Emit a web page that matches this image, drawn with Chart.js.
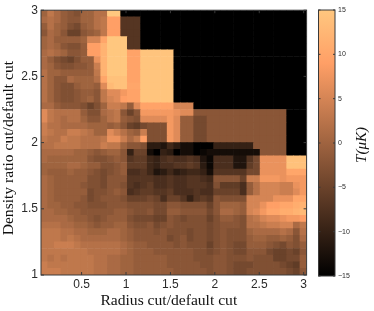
<!DOCTYPE html>
<html><head><meta charset="utf-8">
<script src="https://cdn.jsdelivr.net/npm/chart.js@4"></script>
<style>
html,body{margin:0;padding:0;background:#fff;width:374px;height:311px;overflow:hidden}
canvas{position:absolute;top:0}
#main{left:0}
#bar{left:310px}
</style></head><body>
<canvas id="main" width="374" height="311"></canvas>
<canvas id="bar" width="64" height="311"></canvas>
<script>
const xTickValues=[0.5,1,1.5,2,2.5,3];
const yTickValues=[1,1.5,2,2.5,3];
const colorTickValues=[-15,-10,-5,0,5,10,15];
const xTitle='Radius cut/default cut';
const yTitle='Density ratio cut/default cut';
const colorTitle='T(\u03BCK)';
const K=-15,L=15;
const row00=[0,3,1,-1,-2,-3,0,0,2,2,15,15,K,K,K,K,K,K,K,K,K,K,K,K,K,K,K,K,K,K,K,K,K,K,K,K,K,K,K,K];
const row01=[1,2,1,-1,-2,-2,0,0,2,3,9,9,-7,-7,-7,K,K,K,K,K,K,K,K,K,K,K,K,K,K,K,K,K,K,K,K,K,K,K,K,K];
const row02=[-1,2,0,-1,-3,-4,-1,0,2,3,9,9,-7,-7,-7,K,K,K,K,K,K,K,K,K,K,K,K,K,K,K,K,K,K,K,K,K,K,K,K,K];
const row03=[-2,1,0,-2,-5,-5,-2,-1,0,3,9,9,-7,-7,-7,K,K,K,K,K,K,K,K,K,K,K,K,K,K,K,K,K,K,K,K,K,K,K,K,K];
const row04=[0,1,-1,-1,-1,-1,0,5,5,10,15,15,15,-7,-7,K,K,K,K,K,K,K,K,K,K,K,K,K,K,K,K,K,K,K,K,K,K,K,K,K];
const row05=[0,1,0,-2,-3,-3,-1,9,9,12,15,15,15,-7,-7,K,K,K,K,K,K,K,K,K,K,K,K,K,K,K,K,K,K,K,K,K,K,K,K,K];
const row06=[1,2,1,0,-2,-2,-1,9,9,12,15,15,15,9.5,9.5,14.5,14.5,14.5,14.5,14.5,K,K,K,K,K,K,K,K,K,K,K,K,K,K,K,K,K,K,K,K];
const row07=[1,-1,-3,-4,-5,-3,-1,-1,7,12,15,15,15,9.5,9.5,14.5,14.5,14.5,14.5,14.5,K,K,K,K,K,K,K,K,K,K,K,K,K,K,K,K,K,K,K,K];
const row08=[1,0,-2,-3,-3,-2,-2,-1,4,12,15,15,15,9.5,9.5,14.5,14.5,14.5,14.5,14.5,K,K,K,K,K,K,K,K,K,K,K,K,K,K,K,K,K,K,K,K];
const row09=[2,0,0,-1,-1,-1,-1,-1,3,12,15,15,15,9.5,9.5,14.5,14.5,14.5,14.5,14.5,K,K,K,K,K,K,K,K,K,K,K,K,K,K,K,K,K,K,K,K];
const row10=[2,0,-2,-2,1,0,0,0,2,10,14,14,14,9.5,9.5,14.5,14.5,14.5,14.5,14.5,K,K,K,K,K,K,K,K,K,K,K,K,K,K,K,K,K,K,K,K];
const row11=[2,0,-2,-3,-3,-1,0,0,-1,6,13,14,14,10,10,14.5,14.5,14.5,14.5,14.5,K,K,K,K,K,K,K,K,K,K,K,K,K,K,K,K,K,K,K,K];
const row12=[2,0,-2,-3,-3,-2,-1,-1,-2,3,6,6,8,9.5,9.5,14.5,14.5,14.5,14.5,14.5,K,K,K,K,K,K,K,K,K,K,K,K,K,K,K,K,K,K,K,K];
const row13=[2,0,-2,-3,-3,-2,-1,0,-2,3,5,6,9,9.5,9.5,14.5,14.5,14.5,14.5,14.5,K,K,K,K,K,K,K,K,K,K,K,K,K,K,K,K,K,K,K,K];
const row14=[1,1,-1,-2,-2,-2,-3,-5,-3,0,4,4,3,-1,6,9.5,9.5,9.5,9.5,9.5,5,5,5,K,K,K,K,K,K,K,K,K,K,K,K,K,K,K,K,K];
const row15=[6,3,2,2,2,2,-1,-3,-3,1,2,3,-2,-5,-2,8,8,8,8,8,7,6,6,-2,-2,-2,-2,-2,-2,-2,-2,-2,-2,-2,-2,-2,-2,K,K,K];
const row16=[6,3,2,1,2,2,0,-2,-2,0,2,3,-1,-2,-3,6,6,6,6,8,6,-1,-1,-4,-4,-2,-2,-2,-2,-2,-2,-2,-2,-2,-2,-2,-2,K,K,K];
const row17=[4,2,2,1,1,1,1,0,0,0,-1,0,-2,-5,-6,-4,-3,-3,-3,8,6,-1,-1,-4,-4,-2,-2,-2,-2,-2,-2,-2,-2,-2,-2,-2,-2,K,K,K];
const row18=[4,3,2,2,4,4,3,2,0,0,6,4,2,0,-1,4,-3,-3,-3,8,6,-1,-1,-4,-4,-2,-2,-2,-2,-2,-2,-2,-2,-2,-2,-2,-2,K,K,K];
const row19=[3,2,2,4,3,3,2,2,2,3,7,7,4,1,3,9,-3,-3,-3,8,6,-1,-1,-4,-4,-2,-2,-2,-2,-2,-2,-2,-2,-2,-2,-2,-2,K,K,K];
const row20=[2,2,3,3,3,3,2,2,2,4,3,3,0,-2,-2,-3,-11,-11,-12,-9,-11,-13,-13,K,K,K,-10,-10,-10,-10,-10,-10,-2,-2,-2,-2,-2,K,K,K];
const row21=[1,1,1,1,1,0,0,-1,-2,-1,0,0,-2,-10,-5,-5,-13,K,-10,-11,K,-13,-13,K,-14,-13,-13,-13,-13,-13,-13,-13,-13,-2,-2,-2,-2,K,K,K];
const row22=[1,0,0,0,0,0,0,-2,-3,-3,-2,-1,-2,-7,-6,-6,-9,-10,-8,-7,-8,-8,-7,-8,-12,-14,-8,-8,-8,-12,-12,-7,-4,7,7,7,7,14,14,14];
const row23=[0,0,0,0,1,1,0,-1,-1,-3,-3,-2,-1,-6,-6,-6,-9,-10,-8,-8,-7,-7,-6,-7,-11,-14,-8,-8,-8,-12,-12,-6,-4,7,7,7,7,14,14,14];
const row24=[0,-1,-1,-1,0,-1,-1,-2,-3,-4,-3,-2,-1,-8,-8,-7,-9,-12,-11,-9,-11,-10,-9,-9,-10,-13,-7,-7,-7,-7,-7,-4,-4,7,7,7,7,10,10,10];
const row25=[1,0,-1,-1,-1,-1,-1,-3,-3,-4,-2,-2,-2,-7,-7,-7,-7,-8,-8,-7,-8,-8,-7,-7,-8,-9,-2,-2,-2,-2,-5,4,4,8,8,8,7,8,8,8];
const row26=[1,0,-1,-1,-1,-1,-2,-3,-3,-4,-2,-2,-3,-7,-8,-7,-6,-8,-8,-7,-8,-8,-7,-7,-7,-8,-3,-6,-6,-6,-8,-1,2,5,5,5,4,4,7,8];
const row27=[1,0,-1,-1,-1,-1,-1,-4,-3,-3,-2,-1,-2,-8,-7,-6,-6,-7,-7,-6,-8,-8,-8,-7,-8,-8,-5,-5,-5,-5,-8,-1,2,5,5,5,4,4,6,8];
const row28=[1,0,-1,-1,-1,-1,-2,-4,-3,-2,-2,-2,-3,-5,-5,-5,-4,-5,-8,-5,-5,-7,-10,-7,-6,-7,-2,-3,-3,-3,-3,5,5,5,5,7,7,7,10,10];
const row29=[1,0,0,-1,-1,-2,-2,-3,-3,-3,-2,-2,-2,-3,-3,-3,-3,-4,-4,-2,-2,-3,-3,-3,-3,-5,-2,0,0,0,-1,5,5,7,9,9,10,10,11,12];
const row30=[1,1,0,0,-1,-1,-2,-2,-2,-2,-2,-1,-1,-2,-3,-3,-2,-4,-4,-1,-1,-2,-2,-2,-2,-4,-2,1,1,0,-1,5,6,8,10,10,11,11,12,13];
const row31=[1,1,1,1,0,-1,-1,-2,-3,-2,-1,-1,-1,-3,-4,-4,-4,-5,-5,-2,-3,-4,-3,-3,-3,-5,-3,-1,-1,-2,-3,2,3,5,6,6,7,8,8,9];
const row32=[2,2,2,1,1,0,0,-1,-2,-1,-1,0,0,-2,-3,-3,-2,-4,-3,-2,-3,-3,-3,-3,-3,-4,-3,-2,-2,-2,-3,2,2,3,4,4,5,5,1,3];
const row33=[3,3,3,2,2,1,1,0,0,0,1,1,0,-1,-2,-2,-2,-3,-2,-3,-3,-3,-4,-3,-3,-4,-3,-2,-3,-3,-3,0,1,1,1,1,2,1,-2,2];
const row34=[3,3,3,2,3,2,1,1,1,1,1,1,0,-1,-2,-2,-2,-2,-2,-4,-3,-2,-4,-3,-3,-4,-3,-2,-3,-3,-3,-1,0,0,-1,-1,0,-1,-3,1];
const row35=[3,3,4,4,4,3,2,2,2,2,2,2,1,0,-1,-1,-2,-2,-2,-2,-3,-2,-3,-3,-3,-5,-3,-2,-3,-4,-4,-1,-1,-1,-2,-3,-4,-2,-3,-1];
const row36=[3,3,3,3,3,3,3,2,2,2,2,2,1,0,-1,-1,-1,-2,-2,-2,-2,-2,-2,-3,-3,-4,-3,-2,-3,-4,-4,-2,-2,-2,-4,-5,-5,-4,-5,-2];
const row37=[3,2,3,2,3,3,3,3,2,2,1,1,0,0,-1,-1,-1,-1,-1,-2,-2,-2,-2,-3,-3,-3,-2,-2,-3,-3,-3,-2,-3,-3,-3,-5,-5,-4,-4,-1];
const row38=[4,3,3,3,3,3,3,3,2,2,1,1,0,0,-1,-1,-1,-1,-1,-2,-2,-2,-2,-2,-3,-3,-2,-2,-3,-4,-4,-4,-3,-3,-3,-3,-4,-5,-6,-1];
const row39=[4,4,4,3,3,3,3,3,2,2,1,1,0,0,-1,-1,-1,-1,-1,-1,-2,-2,-2,-2,-2,-3,-2,-2,-3,-4,-4,-3,-3,-3,-3,-3,-3,-4,-5,-2];
const rows=[row00,row01,row02,row03,row04,row05,row06,row07,row08,row09,row10,row11,row12,row13,row14,row15,row16,row17,row18,row19,row20,row21,row22,row23,row24,row25,row26,row27,row28,row29,row30,row31,row32,row33,row34,row35,row36,row37,row38,row39];

const xMin=0.043,xMax=3.033,yMin=1,yMax=3;
function copper(v){
  const t=Math.max(0,Math.min(1,(v+15)/30));
  return `rgb(${Math.round(255*Math.min(1,1.25*t))},${Math.round(199.2*t)},${Math.round(126.9*t)})`;
}
const cells=[],cellColors=[];
const nR=rows.length,nC=rows[0].length,dx=(xMax-xMin)/nC,dy=(yMax-yMin)/nR;
rows.forEach((r,j)=>r.forEach((v,i)=>{
  cells.push({x:xMin+(i+.5)*dx,y:[yMax-(j+1)*dy,yMax-j*dy]});
  cellColors.push(copper(v));
}));
const tickFont={family:'"Liberation Sans"',size:12};
const titleFont={family:'"Liberation Serif"',size:15.6};
const inkColor='#2a2a2a';
function nudgeTitle(scale,sx,sy){
  if(scale.__nudged)return;
  scale.__nudged=true;
  const orig=scale.drawTitle;
  scale.drawTitle=function(){const c=this.ctx;c.save();c.translate(sx,sy);orig.call(this);c.restore();};
}
const frame={id:'frame',afterDatasetsDraw(c){
  const {ctx,chartArea:a,scales:{x,y}}=c;
  ctx.save();ctx.strokeStyle='#3a3a3a';ctx.lineWidth=1;
  ctx.strokeRect(a.left,a.top,a.right-a.left,a.bottom-a.top);
  ctx.beginPath();
  xTickValues.forEach(v=>{const p=x.getPixelForValue(v);ctx.moveTo(p,a.bottom);ctx.lineTo(p,a.bottom-3);ctx.moveTo(p,a.top);ctx.lineTo(p,a.top+3);});
  yTickValues.forEach(v=>{const p=y.getPixelForValue(v);ctx.moveTo(a.left,p);ctx.lineTo(a.left+3,p);ctx.moveTo(a.right,p);ctx.lineTo(a.right-3,p);});
  ctx.stroke();ctx.restore();
}};
new Chart(document.getElementById('main'),{
  type:'bar',
  data:{datasets:[{data:cells,backgroundColor:cellColors,borderWidth:0,barPercentage:1,categoryPercentage:1}]},
  plugins:[frame],
  options:{responsive:false,animation:false,
    layout:{padding:{top:10,right:67.4,left:0,bottom:0}},
    plugins:{legend:{display:false},tooltip:{enabled:false}},
    scales:{
      x:{type:'linear',offset:false,min:xMin,max:xMax,afterFit(s){s.height=36;nudgeTitle(s,-5,0)},
        grid:{display:false,drawTicks:false},border:{display:false},
        ticks:{stepSize:.5,includeBounds:false,autoSkip:false,maxRotation:0,padding:2,color:inkColor,font:tickFont,callback:v=>String(v)},
        title:{display:true,text:xTitle,color:'#111',font:titleFont,padding:{top:0,bottom:1}}},
      y:{type:'linear',min:yMin,max:yMax,afterFit(s){s.width=41;nudgeTitle(s,-0.5,5.5)},
        grid:{display:false,drawTicks:false},border:{display:false},
        ticks:{stepSize:.5,autoSkip:false,padding:3,color:inkColor,font:tickFont,callback:v=>String(v)},
        title:{display:true,text:yTitle,color:'#111',font:titleFont,padding:{top:0,bottom:0}}}
    }}
});
const barFrame={id:'barFrame',afterDatasetsDraw(c){
  const {ctx,chartArea:a,scales:{y}}=c;
  ctx.save();ctx.strokeStyle='#3a3a3a';ctx.lineWidth=1;
  ctx.strokeRect(a.left,a.top,a.right-a.left,a.bottom-a.top);
  ctx.beginPath();
  colorTickValues.forEach(v=>{const p=y.getPixelForValue(v);ctx.moveTo(a.left,p);ctx.lineTo(a.left+2,p);ctx.moveTo(a.right,p);ctx.lineTo(a.right-2,p);});
  ctx.stroke();
  ctx.translate(52,a.top+(a.bottom-a.top)/2+2);ctx.rotate(-Math.PI/2);
  ctx.fillStyle='#111';ctx.textAlign='center';ctx.textBaseline='middle';
  ctx.font='italic 15px "Liberation Serif"';ctx.fillText(colorTitle,0,0);
  ctx.restore();
}};
new Chart(document.getElementById('bar'),{
  type:'bar',
  data:{labels:[''],datasets:[{data:[[-15,15]],borderWidth:0,barPercentage:1,categoryPercentage:1,
    backgroundColor(ctx){
      const a=ctx.chart.chartArea;if(!a)return '#000';
      const g=ctx.chart.ctx.createLinearGradient(0,a.bottom,0,a.top);
      g.addColorStop(0,copper(-15));g.addColorStop(.8,copper(9));g.addColorStop(1,copper(15));
      return g;
    }}]},
  plugins:[barFrame],
  options:{responsive:false,animation:false,
    layout:{padding:{top:10,left:8.5,right:0,bottom:0}},
    plugins:{legend:{display:false},tooltip:{enabled:false}},
    scales:{
      x:{display:true,grid:{display:false,drawTicks:false},border:{display:false},ticks:{display:false},afterFit(s){s.height=35}},
      y:{position:'right',min:-15,max:15,afterFit(s){s.width=39},
        grid:{display:false,drawTicks:false},border:{display:false},
        ticks:{stepSize:5,autoSkip:false,padding:3,color:inkColor,font:{family:'"Liberation Sans"',size:7},callback:v=>v<0?'\u2212'+(-v):String(v)}}
    }}
});
</script>
</body></html>
